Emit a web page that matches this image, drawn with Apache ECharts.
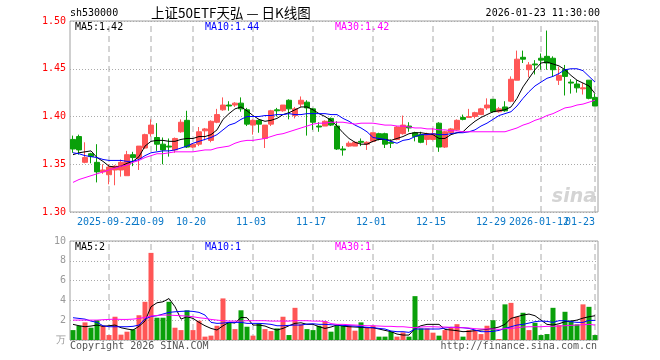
<!DOCTYPE html>
<html><head><meta charset="utf-8">
<script src="https://cdn.jsdelivr.net/npm/echarts@6/dist/echarts.min.js"></script>
<style>html,body{margin:0;padding:0;background:#fff}#c{width:660px;height:360px}</style>
</head><body><div id="c"></div>
<script>
const dates = ['2025-09-12','2025-09-15','2025-09-16','2025-09-17','2025-09-18','2025-09-19','2025-09-22','2025-09-23','2025-09-24','2025-09-25','2025-09-26','2025-09-29','2025-09-30',
'2025-10-09','2025-10-10','2025-10-13','2025-10-14','2025-10-15','2025-10-16','2025-10-17','2025-10-20','2025-10-21','2025-10-22','2025-10-23','2025-10-24','2025-10-27','2025-10-28','2025-10-29','2025-10-30','2025-10-31',
'2025-11-03','2025-11-04','2025-11-05','2025-11-06','2025-11-07','2025-11-10','2025-11-11','2025-11-12','2025-11-13','2025-11-14','2025-11-17','2025-11-18','2025-11-19','2025-11-20','2025-11-21','2025-11-24','2025-11-25','2025-11-26','2025-11-27','2025-11-28',
'2025-12-01','2025-12-02','2025-12-03','2025-12-04','2025-12-05','2025-12-08','2025-12-09','2025-12-10','2025-12-11','2025-12-12','2025-12-15','2025-12-16','2025-12-17','2025-12-18','2025-12-19','2025-12-22','2025-12-23','2025-12-24','2025-12-25','2025-12-26','2025-12-29','2025-12-30','2025-12-31',
'2026-01-05','2026-01-06','2026-01-07','2026-01-08','2026-01-09','2026-01-12','2026-01-13','2026-01-14','2026-01-15','2026-01-16','2026-01-19','2026-01-20','2026-01-21','2026-01-22','2026-01-23'];

const tickIdx = [6,13,20,30,40,50,60,70,78,87];
const tickText = ['2025-09-22','10-09','10-20','11-03','11-17','12-01','12-15','12-29','2026-01-12','01-23'];

const openP = [1.376,1.379,1.352,1.361,1.352,1.342,1.339,1.344,1.344,1.338,
1.360,1.356,1.367,1.382,1.378,1.371,1.369,1.365,1.384,1.396,
1.368,1.371,1.385,1.375,1.394,1.407,1.412,1.412,1.414,1.407,
1.391,1.396,1.377,1.392,1.407,1.406,1.417,1.401,1.413,1.415,
1.408,1.390,1.390,1.398,1.390,1.366,1.369,1.369,1.374,1.371,
1.374,1.382,1.382,1.373,1.376,1.382,1.390,1.383,1.381,1.376,
1.376,1.393,1.368,1.383,1.386,1.399,1.399,1.400,1.402,1.409,
1.418,1.405,1.410,1.416,1.438,1.462,1.449,1.455,1.461,1.463,
1.461,1.438,1.449,1.436,1.434,1.429,1.438,1.420];
const closeP = [1.366,1.365,1.357,1.358,1.342,1.344,1.347,1.348,1.352,1.360,
1.357,1.369,1.381,1.391,1.371,1.365,1.368,1.377,1.394,1.368,
1.371,1.384,1.387,1.395,1.402,1.412,1.411,1.414,1.408,1.392,
1.396,1.392,1.391,1.406,1.406,1.412,1.408,1.408,1.417,1.409,
1.394,1.389,1.395,1.391,1.366,1.365,1.372,1.373,1.373,1.373,
1.383,1.376,1.371,1.372,1.389,1.391,1.388,1.379,1.373,1.382,
1.382,1.368,1.384,1.387,1.396,1.397,1.400,1.404,1.408,1.412,
1.405,1.408,1.406,1.439,1.460,1.460,1.454,1.454,1.459,1.456,
1.449,1.443,1.442,1.435,1.430,1.430,1.419,1.411];
const lowP = [1.362,1.360,1.351,1.351,1.331,1.340,1.329,1.328,1.337,1.338,
1.348,1.344,1.366,1.379,1.364,1.350,1.358,1.362,1.383,1.367,
1.367,1.369,1.375,1.373,1.393,1.406,1.406,1.410,1.405,1.390,
1.381,1.383,1.367,1.390,1.400,1.405,1.397,1.398,1.410,1.380,
1.386,1.384,1.390,1.390,1.365,1.359,1.368,1.369,1.369,1.365,
1.373,1.375,1.367,1.367,1.375,1.381,1.384,1.374,1.372,1.370,
1.375,1.363,1.367,1.381,1.385,1.396,1.399,1.398,1.402,1.407,
1.404,1.404,1.405,1.415,1.438,1.456,1.441,1.444,1.449,1.449,
1.442,1.433,1.422,1.424,1.425,1.423,1.418,1.411];
const highP = [1.380,1.381,1.373,1.362,1.371,1.350,1.350,1.349,1.355,1.364,
1.363,1.369,1.382,1.397,1.393,1.378,1.377,1.378,1.397,1.406,
1.372,1.389,1.388,1.396,1.408,1.420,1.416,1.415,1.420,1.409,
1.397,1.397,1.391,1.407,1.409,1.412,1.418,1.410,1.421,1.417,
1.409,1.394,1.396,1.399,1.395,1.369,1.374,1.374,1.377,1.374,
1.383,1.383,1.383,1.376,1.390,1.401,1.394,1.384,1.384,1.383,
1.388,1.394,1.385,1.388,1.397,1.402,1.408,1.405,1.409,1.419,
1.418,1.410,1.416,1.442,1.469,1.469,1.457,1.459,1.466,1.490,
1.463,1.452,1.454,1.439,1.438,1.435,1.438,1.424];

const ma5 = [1.360,1.362,1.363,1.364,1.357,1.353,1.348,1.347,1.348,1.351,
1.353,1.358,1.369,1.374,1.375,1.375,1.374,1.374,1.376,1.377,
1.377,1.379,1.379,1.381,1.386,1.397,1.403,1.408,1.410,1.406,
1.401,1.397,1.395,1.396,1.398,1.402,1.404,1.407,1.410,1.410,
1.407,1.403,1.400,1.396,1.390,1.383,1.377,1.373,1.371,1.371,
1.374,1.376,1.376,1.375,1.377,1.379,1.382,1.383,1.383,1.382,
1.381,1.377,1.377,1.381,1.383,1.384,1.390,1.395,1.399,1.402,
1.405,1.406,1.407,1.410,1.419,1.431,1.440,1.449,1.456,1.457,
1.455,1.453,1.449,1.443,1.438,1.435,1.432,1.424];
const ma10 = [1.362,1.361,1.359,1.358,1.357,1.355,1.354,1.354,1.354,1.353,
1.353,1.355,1.359,1.362,1.363,1.364,1.364,1.365,1.367,1.369,
1.372,1.374,1.376,1.378,1.381,1.386,1.391,1.393,1.397,1.400,
1.400,1.400,1.401,1.401,1.402,1.402,1.403,1.402,1.402,1.403,
1.403,1.403,1.403,1.402,1.402,1.398,1.395,1.391,1.388,1.384,
1.378,1.377,1.376,1.374,1.372,1.375,1.376,1.379,1.381,1.381,
1.382,1.381,1.381,1.382,1.383,1.383,1.384,1.386,1.390,1.393,
1.397,1.401,1.403,1.405,1.411,1.419,1.426,1.432,1.436,1.440,
1.442,1.445,1.449,1.450,1.450,1.448,1.442,1.436];
const ma30 = [1.331,1.334,1.336,1.338,1.340,1.342,1.344,1.346,1.348,1.349,
1.352,1.354,1.357,1.359,1.361,1.361,1.362,1.363,1.363,1.363,
1.363,1.364,1.365,1.365,1.367,1.368,1.369,1.372,1.374,1.375,
1.375,1.376,1.377,1.379,1.381,1.382,1.384,1.386,1.388,1.390,
1.392,1.393,1.393,1.394,1.394,1.394,1.393,1.392,1.393,1.393,
1.393,1.392,1.391,1.391,1.390,1.390,1.389,1.388,1.388,1.387,
1.387,1.386,1.386,1.385,1.385,1.384,1.384,1.384,1.384,1.384,
1.384,1.384,1.384,1.386,1.388,1.391,1.393,1.396,1.398,1.401,
1.403,1.406,1.409,1.410,1.412,1.413,1.415,1.417];

const volume = [1.0,1.44,1.78,1.24,2.0,1.44,0.5,2.35,0.54,0.84,
1.07,2.5,3.86,8.8,2.25,2.25,3.86,1.24,1.0,3.0,
1.0,1.95,0.34,0.44,1.44,4.2,1.78,1.1,3.0,1.34,
0.44,1.68,1.1,0.9,1.17,2.35,0.5,3.25,1.58,1.1,
1.0,1.44,1.9,0.84,1.5,1.44,1.44,0.94,1.78,1.24,
1.44,0.34,0.34,0.84,0.34,0.77,0.34,4.43,1.17,1.17,
0.74,0.44,1.0,1.24,1.6,0.34,1.0,1.0,0.6,1.44,
2.0,0.1,3.6,3.75,2.35,2.75,1.0,1.74,0.5,0.6,
3.25,1.5,2.85,1.95,1.58,3.6,3.35,0.5];
const volMa5 = [1.58,1.44,1.34,1.41,1.51,1.38,1.44,1.51,1.24,1.11,
1.01,1.38,1.91,3.36,3.76,3.86,4.19,3.36,2.11,2.35,
2.18,1.78,1.44,1.17,1.01,1.44,1.78,1.71,2.28,2.25,
1.51,1.51,1.41,1.17,1.01,1.17,1.44,1.68,1.74,1.58,
1.58,1.34,1.17,1.31,1.51,1.41,1.34,1.31,1.28,1.24,
1.24,1.11,0.97,0.84,0.60,0.50,0.50,1.17,1.44,1.58,
1.58,1.58,1.07,1.01,0.94,0.84,0.87,0.94,1.01,1.07,
1.17,1.31,1.58,2.18,2.35,2.52,2.62,2.45,2.01,1.58,
1.51,1.64,1.85,1.91,2.01,2.21,2.35,2.45];
const volMa10 = [2.25,2.18,2.11,1.91,1.78,1.44,1.34,1.34,1.34,1.34,
1.38,1.51,2.11,2.38,2.45,2.62,2.79,2.85,2.89,2.92,
2.89,2.79,2.52,1.78,1.68,1.71,1.78,1.78,1.78,1.68,
1.68,1.68,1.64,1.58,1.44,1.44,1.48,1.51,1.51,1.61,
1.64,1.58,1.58,1.54,1.51,1.48,1.44,1.41,1.34,1.28,
1.24,1.17,1.11,0.91,0.84,0.84,0.77,1.11,1.11,1.11,
1.11,1.11,1.21,1.28,1.28,1.24,1.17,1.01,0.84,0.84,
0.87,0.97,1.17,1.34,1.51,1.58,1.71,1.85,1.91,1.88,
1.78,1.95,1.95,1.85,1.78,1.78,1.98,1.98];
const volMa30 = [2.01,2.01,2.01,2.01,2.01,2.05,2.08,2.11,2.08,2.08,
2.11,2.18,2.28,2.42,2.48,2.52,2.52,2.48,2.45,2.42,
2.35,2.25,2.18,2.08,2.01,1.95,1.91,1.91,1.91,1.95,
1.95,1.95,1.95,1.91,1.91,1.91,1.91,1.95,1.95,1.95,
1.91,1.91,1.88,1.66,1.58,1.58,1.54,1.51,1.48,1.44,
1.44,1.41,1.38,1.38,1.34,1.34,1.28,1.24,1.31,1.34,
1.34,1.31,1.31,1.28,1.24,1.24,1.21,1.14,1.11,1.11,
1.11,1.07,1.14,1.17,1.24,1.31,1.34,1.34,1.34,1.38,
1.38,1.41,1.44,1.48,1.51,1.54,1.58,1.51];

const PRICE_MIN = 1.30, PRICE_MAX = 1.50, VOL_MIN = 0, VOL_MAX = 10;
const UP = '#ff5656', DOWN = '#0aa00a';
const MONO = "'DejaVu Sans Mono', monospace";
const last = a => a[a.length - 1];

const kData = openP.map((o, i) => [o, closeP[i], lowP[i], highP[i]]);
const volData = volume.map((v, i) => ({value: v, itemStyle: {color: closeP[i] >= openP[i] ? UP : DOWN}}));

function xAxisCfg(gi) {
  return {
    type: 'category', gridIndex: gi, data: dates, boundaryGap: true,
    axisLine: {show: false}, axisTick: {show: false}, axisLabel: {show: false}, splitLine: {show: false}
  };
}
function line(name, data, color, xi, yi) {
  return {name, type: 'line', data, xAxisIndex: xi, yAxisIndex: yi, symbol: 'none', silent: true,
    lineStyle: {color, width: 1}, itemStyle: {color}, z: 4};
}
// vertical dashed gridlines: one two-point line series per labelled date, drawn through the axes
function vLineSeries(gi, lo, hi) {
  return tickIdx.map(idx => ({
    type: 'line', xAxisIndex: gi, yAxisIndex: gi, silent: true, z: 1, symbol: 'none',
    data: [[dates[idx], lo], [dates[idx], hi]],
    lineStyle: {color: '#aaaaaa', width: 1, type: [6, 4]}, itemStyle: {color: '#aaaaaa'}
  }));
}
// date labels below the price panel, placed through the category scale
const dateLabels = {type: 'custom', xAxisIndex: 0, yAxisIndex: 0, z: 5, silent: true, clip: false,
  data: tickIdx.map((idx, k) => [idx, PRICE_MIN, k]),
  encode: {x: 0, y: 1},
  renderItem: (params, api) => {
    const k = api.value(2);
    const p = api.coord([api.value(0), api.value(1)]);
    const isLast = k === tickText.length - 1;
    return {type: 'text', x: isLast ? p[0] : p[0] - 2, y: p[1] + 5,
      style: {text: tickText[k], fill: '#0a78c8', font: '10px ' + MONO, align: isLast ? 'right' : 'center', verticalAlign: 'top'}};
  }};

const texts = [
  {type: 'text', x: 70, y: 13, style: {text: 'sh530000', fill: '#000', font: '10px ' + MONO, verticalAlign: 'middle'}},
  {type: 'text', x: 151, y: 13, style: {text: '上证50ETF天弘 — 日K线图', fill: '#000', font: "13.5px 'Noto Sans CJK SC'", verticalAlign: 'middle'}},
  {type: 'text', x: 600, y: 13, style: {text: '2026-01-23 11:30:00', fill: '#000', font: '10px ' + MONO, align: 'right', verticalAlign: 'middle'}},
  {type: 'text', x: 75, y: 27, z: 10, style: {text: 'MA5:' + last(ma5).toFixed(2), fill: '#000', font: '10px ' + MONO, verticalAlign: 'middle'}},
  {type: 'text', x: 205, y: 27, z: 10, style: {text: 'MA10:' + last(ma10).toFixed(2), fill: '#0000ff', font: '10px ' + MONO, verticalAlign: 'middle'}},
  {type: 'text', x: 335, y: 27, z: 10, style: {text: 'MA30:' + last(ma30).toFixed(2), fill: '#ff00ff', font: '10px ' + MONO, verticalAlign: 'middle'}},
  {type: 'text', x: 75, y: 247, z: 10, style: {text: 'MA5:' + Math.floor(last(volMa5)), fill: '#000', font: '10px ' + MONO, verticalAlign: 'middle'}},
  {type: 'text', x: 205, y: 247, z: 10, style: {text: 'MA10:' + Math.floor(last(volMa10)), fill: '#0000ff', font: '10px ' + MONO, verticalAlign: 'middle'}},
  {type: 'text', x: 335, y: 247, z: 10, style: {text: 'MA30:' + Math.floor(last(volMa30)), fill: '#ff00ff', font: '10px ' + MONO, verticalAlign: 'middle'}},
  {type: 'text', x: 70, y: 346, style: {text: 'Copyright 2026 SINA.COM', fill: '#555', font: '10px ' + MONO, verticalAlign: 'middle'}},
  {type: 'text', x: 597, y: 346, style: {text: 'http://finance.sina.com.cn', fill: '#555', font: '10px ' + MONO, align: 'right', verticalAlign: 'middle'}},
  {type: 'text', x: 596, y: 197, z: 0, style: {text: 'sina', fill: '#d4d4d4', font: "italic bold 19px 'DejaVu Sans'", align: 'right', verticalAlign: 'middle'}}
];

const chart = echarts.init(document.getElementById('c'), null, {renderer: 'canvas'});
chart.setOption({
  animation: false,
  backgroundColor: '#ffffff',
  grid: [
    {left: 70, right: 62, top: 21, height: 191, show: true, borderColor: '#a0a0a0', borderWidth: 1},
    {left: 70, right: 62, top: 241, height: 99, show: true, borderColor: '#a0a0a0', borderWidth: 1}
  ],
  xAxis: [xAxisCfg(0), xAxisCfg(1)],
  yAxis: [
    {type: 'value', gridIndex: 0, min: PRICE_MIN, max: PRICE_MAX, interval: 0.05, axisLine: {show: false}, axisTick: {show: false},
      axisLabel: {color: '#ff0000', fontSize: 10, fontFamily: MONO, margin: 4, formatter: v => v.toFixed(2)},
      splitLine: {lineStyle: {color: '#aaaaaa', type: [1, 2], width: 1}}},
    {type: 'value', gridIndex: 1, min: VOL_MIN, max: VOL_MAX, interval: 2, axisLine: {show: false}, axisTick: {show: false},
      axisLabel: {color: '#999999', fontSize: 10, fontFamily: MONO, margin: 4, formatter: v => v === 0 ? '万' : String(v)},
      splitLine: {lineStyle: {color: '#aaaaaa', type: [1, 2], width: 1}}}
  ],
  series: [].concat(
    vLineSeries(0, PRICE_MIN, PRICE_MAX),
    vLineSeries(1, VOL_MIN, VOL_MAX),
    [
      {type: 'candlestick', xAxisIndex: 0, yAxisIndex: 0, data: kData, barWidth: 5, silent: true, z: 3,
        itemStyle: {color: UP, color0: DOWN, borderColor: UP, borderColor0: DOWN, borderWidth: 1}},
      line('MA5', ma5, '#000000', 0, 0),
      line('MA10', ma10, '#0000ff', 0, 0),
      line('MA30', ma30, '#ff00ff', 0, 0),
      {type: 'bar', xAxisIndex: 1, yAxisIndex: 1, data: volData, barWidth: 5, silent: true, z: 3},
      line('VMA5', volMa5, '#000000', 1, 1),
      line('VMA10', volMa10, '#0000ff', 1, 1),
      line('VMA30', volMa30, '#ff00ff', 1, 1),
      dateLabels
    ]
  ),
  graphic: texts
});
</script></body></html>
